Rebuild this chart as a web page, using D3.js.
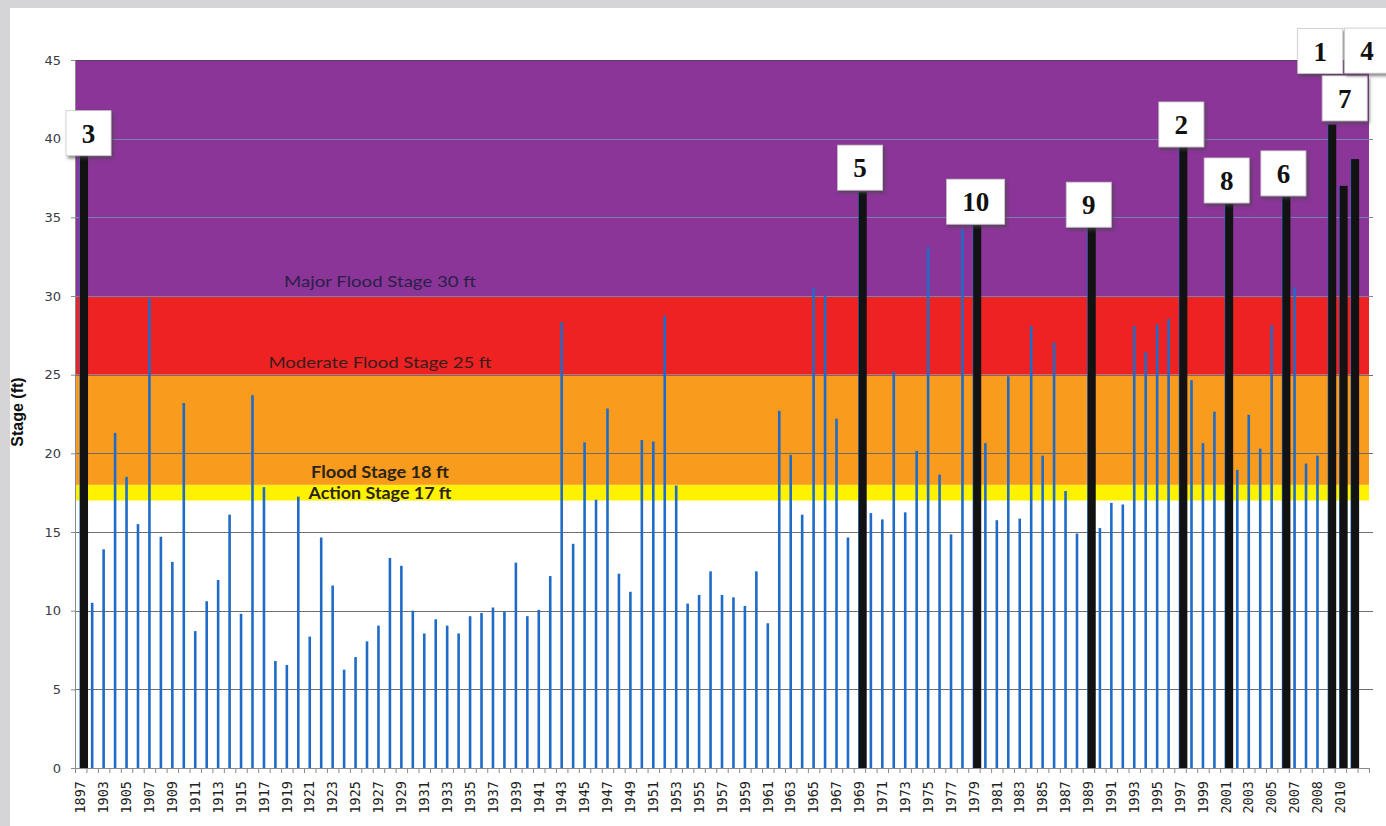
<!DOCTYPE html>
<html>
<head>
<meta charset="utf-8">
<script src="https://cdn.jsdelivr.net/npm/d3@7"></script>
<style>
  html, body { margin: 0; padding: 0; background: #d5d5d7; }
  svg { display: block; }
</style>
</head>
<body>
<svg id="chart" width="1386" height="826"></svg>
<script>
// ---------- DATA ----------
const years = ["1897","1902"]
  .concat(d3.range(1903, 2008).map(String))
  .concat(["2007","2008","2009","2010","2011",""]);

const stages = [
  39.3, 10.5, 13.9, 21.3, 18.5, 15.5, 29.85, 14.7, 13.1, 23.2,
  8.7, 10.6, 11.95, 16.1, 9.8, 23.7, 17.85, 6.8, 6.55, 17.25,
  8.35, 14.65, 11.6, 6.25, 7.05, 8.05, 9.05, 13.35, 12.85, 10.0,
  8.55, 9.45, 9.05, 8.55, 9.65, 9.85, 10.2, 9.95, 13.05, 9.65,
  10.05, 12.2, 28.35, 14.25, 20.7, 17.05, 22.85, 12.35, 11.2, 20.85,
  20.75, 28.75, 17.95, 10.45, 11.0, 12.5, 11.0, 10.85, 10.3, 12.5,
  9.2, 22.7, 19.9, 16.1, 30.5, 30.0, 22.2, 14.65, 36.6, 16.2,
  15.8, 25.2, 16.25, 20.15, 33.1, 18.65, 14.85, 34.25, 34.5, 20.65,
  15.75, 24.9, 15.85, 28.1, 19.85, 27.05, 17.6, 14.9, 34.5, 15.25,
  16.85, 16.75, 28.1, 26.45, 28.2, 28.55, 39.6, 24.65, 20.65, 22.65,
  35.85, 18.95, 22.45, 20.3, 28.15, 36.3, 30.55, 19.35, 19.85, 40.9,
  37.0, 38.7, null
];

const topTenYears = ["1897","1969","1979","1989","1997","2001","2006","2009","2010","2011"];
const topTenRanks = [3, 5, 10, 9, 2, 8, 6, 1, 7, 4];

const stageNames  = ["Action Stage 17 ft", "Flood Stage 18 ft", "Moderate Flood Stage 25 ft", "Major Flood Stage 30 ft"];
const stageFloors = [17, 18, 25, 30];
const stageCeils  = [18, 25, 30, 45];

const yTicks = d3.range(0, 46, 5);

// ---------- STYLE / LAYOUT ----------
const bandColors = ["#fff200", "#f99b1c", "#ee2222", "#8a3597"];
const labelStyle = [
  {fill:"#2a2418", weight:"700", size:17, len:143, dy:-2},
  {fill:"#2a2418", weight:"700", size:17, len:138, dy:-7},
  {fill:"#3a1c1c", weight:"400", size:16, len:223, dy:-7},
  {fill:"#2b1f4a", weight:"400", size:16, len:192, dy:-9}
];
// box nudges for annotation boxes: [dx from black bar centre, lift above bar top]
const boxNudge = {1:[-12,51], 2:[-2,-2], 3:[4.5,-6], 4:[12,86], 5:[-2.6,2], 6:[-3,1], 7:[1,65], 8:[-2.5,1], 9:[-3,-2], 10:[-1.6,1]};

const svg = d3.select("#chart");
const X0 = 75, X1 = 1369, Y0 = 60, Y1 = 768;

// white panel
svg.append("rect").attr("x", 10).attr("y", 8).attr("width", 1376).attr("height", 818).attr("fill", "#ffffff");

const x = d3.scaleBand().domain(d3.range(years.length)).range([X0, X1]).paddingInner(0).paddingOuter(0);
const xEdge = d3.scaleLinear().domain([0, years.length]).range([X0, X1]);
const y = d3.scaleLinear().domain([0, 45]).range([Y1, Y0]);

// stage bands
svg.append("g").selectAll("rect").data(stageFloors).join("rect")
  .attr("x", X0).attr("width", X1 - X0)
  .attr("y", (d, i) => y(stageCeils[i]))
  .attr("height", (d, i) => y(d) - y(stageCeils[i]))
  .attr("fill", (d, i) => bandColors[i]);

// top border of plot
svg.append("line").attr("x1", X0).attr("x2", X1).attr("y1", Y0 + 0.5).attr("y2", Y0 + 0.5)
  .attr("stroke", "#5a3a6a").attr("stroke-width", 1);

// gridlines
svg.append("g").selectAll("line").data(yTicks.filter(v => v > 0 && v < 45)).join("line")
  .attr("x1", X0).attr("x2", X1 + 4)
  .attr("y1", d => Math.round(y(d)) + 0.5).attr("y2", d => Math.round(y(d)) + 0.5)
  .attr("stroke", d => d >= 30 ? "#7483b0" : "#6e6e6e")
  .attr("stroke-width", 1.2);

// blue bars (all annual crests)
const bw = 2.6;
svg.append("g").selectAll("rect").data(stages.map((v, i) => ({v, i})).filter(d => d.v != null)).join("rect")
  .attr("x", d => x(d.i) + x.bandwidth() / 2 - bw / 2)
  .attr("width", bw)
  .attr("y", d => y(d.v))
  .attr("height", d => y(0) - y(d.v))
  .attr("fill", "#1f6cc8");

// black bars (top ten)
const topData = topTenYears.map((yr, k) => {
  const i = years.indexOf(yr);
  return {i, v: stages[i], rank: topTenRanks[k]};
});
const blackW = 8, blackOff = 3.3;
svg.append("g").selectAll("rect").data(topData).join("rect")
  .attr("x", d => x(d.i) + x.bandwidth() / 2 + blackOff - blackW / 2)
  .attr("width", blackW)
  .attr("y", d => y(d.v))
  .attr("height", d => y(0) - y(d.v))
  .attr("fill", "#121212");

// y axis
const yAxis = svg.append("g").attr("transform", `translate(${X0},0)`)
  .call(d3.axisLeft(y).tickValues(yTicks).tickSize(4).tickPadding(10));
yAxis.select(".domain").attr("stroke", "#8a8a8a");
yAxis.selectAll(".tick line").attr("stroke", "#8a8a8a");
yAxis.selectAll("text").attr("font-family", "DejaVu Sans, Verdana, sans-serif")
  .attr("font-size", 13).attr("fill", "#3a3a44");

// x axis: boundary ticks
const xTickAxis = svg.append("g").attr("transform", `translate(0,${Y1})`)
  .call(d3.axisBottom(xEdge).tickValues(d3.range(0, years.length + 1)).tickSize(5).tickFormat(""));
xTickAxis.select(".domain").attr("stroke", "#8a8a8a");
xTickAxis.selectAll(".tick line").attr("stroke", "#8a8a8a");

// x axis labels
const xLab = svg.append("g").attr("transform", `translate(0,${Y1})`)
  .call(d3.axisBottom(x).tickSize(0).tickFormat((d, i) => (i % 2 === 0 ? years[i] : "")));
xLab.select(".domain").remove();
xLab.selectAll("text")
  .attr("font-family", "DejaVu Sans Mono, monospace")
  .attr("font-size", 13.5)
  .attr("fill", "#222")
  .attr("text-anchor", "end")
  .attr("x", 0).attr("y", 0).attr("dy", "0.35em")
  .attr("transform", "translate(0,13) rotate(-90)");

// y axis title
svg.append("text")
  .attr("transform", "translate(23,412) rotate(-90)")
  .attr("text-anchor", "middle")
  .attr("font-family", "Liberation Sans Narrow, Liberation Sans, Arial, sans-serif")
  .attr("font-weight", "700").attr("font-size", 16).attr("fill", "#111")
  .text("Stage (ft)");

// stage labels
svg.append("g").selectAll("text").data(stageNames).join("text")
  .attr("x", 380)
  .attr("y", (d, i) => y(stageFloors[i]) + labelStyle[i].dy)
  .attr("text-anchor", "middle")
  .attr("font-family", "Lato, Open Sans, sans-serif")
  .attr("font-weight", (d, i) => labelStyle[i].weight)
  .attr("font-size", (d, i) => labelStyle[i].size)
  .attr("fill", (d, i) => labelStyle[i].fill)
  .attr("textLength", (d, i) => labelStyle[i].len)
  .attr("lengthAdjust", "spacingAndGlyphs")
  .text(d => d);

// annotation boxes
const defs = svg.append("defs");
const f = defs.append("filter").attr("id", "sh").attr("x", "-20%").attr("y", "-20%").attr("width", "150%").attr("height", "150%");
f.append("feDropShadow").attr("dx", 2).attr("dy", 2.5).attr("stdDeviation", 1.8).attr("flood-color", "#444").attr("flood-opacity", 0.65);

const boxes = svg.append("g").selectAll("g").data(topData).join("g")
  .attr("transform", d => {
    const cx = x(d.i) + x.bandwidth() / 2 + blackOff + boxNudge[d.rank][0];
    const bottom = y(d.v) - boxNudge[d.rank][1];
    return `translate(${cx},${bottom})`;
  });
boxes.append("rect")
  .attr("x", d => d.rank === 10 ? -29 : -22.5)
  .attr("width", d => d.rank === 10 ? 58 : 45)
  .attr("y", -45).attr("height", 45)
  .attr("fill", "#ffffff").attr("stroke", "#c8c8c8").attr("stroke-width", 0.8)
  .attr("filter", "url(#sh)");
boxes.append("text")
  .attr("x", 0).attr("y", -13)
  .attr("text-anchor", "middle")
  .attr("font-family", "Liberation Serif, Times New Roman, serif")
  .attr("font-weight", "700").attr("font-size", 27).attr("fill", "#111")
  .text(d => d.rank);
</script>
</body>
</html>
